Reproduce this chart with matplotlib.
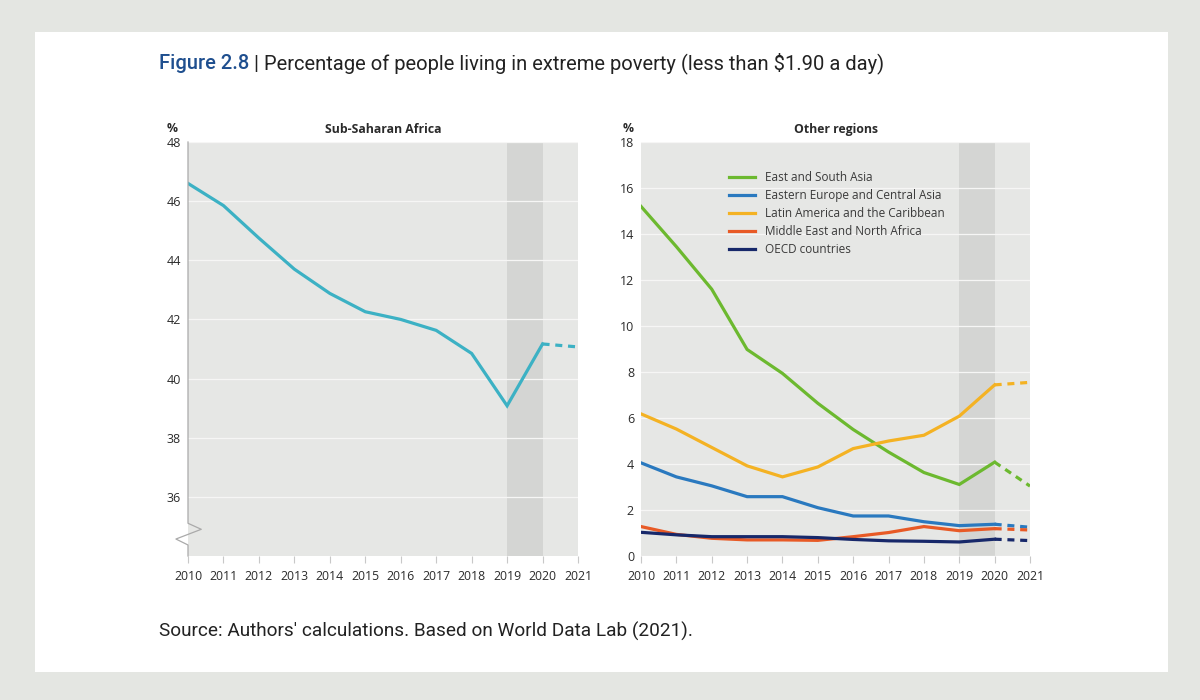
import matplotlib
matplotlib.use("Agg")
import matplotlib.pyplot as plt
from matplotlib.patches import Rectangle
from matplotlib.lines import Line2D

years = [2010, 2011, 2012, 2013, 2014, 2015, 2016, 2017, 2018, 2019, 2020, 2021]

ssa = [46.6, 45.85, 44.75, 43.7, 42.88, 42.26, 42.0, 41.63, 40.85, 39.08, 41.17, 41.07]

region_names = ["East and South Asia", "Eastern Europe and Central Asia",
                "Latin America and the Caribbean", "Middle East and North Africa",
                "OECD countries"]
east_south_asia = [15.2, 13.45, 11.6, 8.98, 7.94, 6.64, 5.5, 4.52, 3.63, 3.11, 4.08, 3.04]
eastern_europe = [4.05, 3.44, 3.05, 2.58, 2.58, 2.1, 1.74, 1.74, 1.49, 1.32, 1.38, 1.25]
latin_america = [6.18, 5.52, 4.72, 3.92, 3.44, 3.87, 4.67, 5.0, 5.25, 6.08, 7.44, 7.55]
mena = [1.28, 0.94, 0.77, 0.70, 0.70, 0.68, 0.84, 1.02, 1.28, 1.1, 1.19, 1.13]
oecd = [1.03, 0.92, 0.84, 0.84, 0.84, 0.8, 0.72, 0.66, 0.64, 0.61, 0.73, 0.67]

left_yticks = [36, 38, 40, 42, 44, 46, 48]
right_yticks = [0, 2, 4, 6, 8, 10, 12, 14, 16, 18]

colors = ["#6cb92f", "#2a79bf", "#f4b223", "#e85a26", "#17286a"]
ssa_color = "#3cb1c4"
plot_bg = "#e6e7e5"
band_color = "#d4d5d3"
txt = "#2b2b2b"
chart_font = ["Open Sans", "DejaVu Sans"]

fig = plt.figure(figsize=(12, 7), dpi=100)
fig.patch.set_facecolor("#e4e6e2")
fig.add_artist(Rectangle((35 / 1200, 1 - 672 / 700), (1168 - 35) / 1200, (672 - 32) / 700,
                         transform=fig.transFigure, facecolor="white", edgecolor="none", zorder=0))

ax1 = fig.add_axes([188 / 1200, 1 - 556 / 700, 390 / 1200, 414 / 700])
ax2 = fig.add_axes([641 / 1200, 1 - 556 / 700, 389 / 1200, 414 / 700])

n_solid = years.index(2020) + 1


def style(ax, yticks, ylim):
    ax.set_facecolor(plot_bg)
    ax.set_xlim(2010, 2021)
    ax.set_ylim(*ylim)
    ax.set_yticks(yticks)
    ax.set_xticks(years)
    ax.set_xticklabels([str(y) for y in years])
    for s in ax.spines.values():
        s.set_visible(False)
    ax.grid(axis="y", color="#f6f6f5", linewidth=0.9)
    ax.set_axisbelow(True)
    ax.tick_params(axis="y", length=0, pad=5, labelsize=9, labelcolor=txt)
    ax.tick_params(axis="x", length=5, width=0.8, color="#c8c8c8", pad=5,
                   labelsize=8.8, labelcolor=txt)
    for lab in ax.get_xticklabels() + ax.get_yticklabels():
        lab.set_family(chart_font)
    ax.axvspan(2019, 2020, color=band_color, zorder=0.5, linewidth=0)


def draw(ax, vals, color, label=None):
    ax.plot(years[:n_solid], vals[:n_solid], color=color, lw=2.3, solid_joinstyle="miter",
            label=label, zorder=3)
    ax.plot(years[n_solid - 1:], vals[n_solid - 1:], color=color, lw=2.3,
            dashes=(2.2, 1.8), zorder=3)


style(ax1, left_yticks, (34, 48))
style(ax2, right_yticks, (0, 18))

draw(ax1, ssa, ssa_color)
series = [east_south_asia, eastern_europe, latin_america, mena, oecd]
for vals, c, name in zip(series, colors, region_names):
    draw(ax2, vals, c, name)

# left spine with axis break
sp = "#aaaaaa"
pts_x = [0, 0, 0.034, -0.031, 0, 0]
pts_y = [1, 0.079, 0.0645, 0.041, 0.0266, 0]
ax1.add_line(Line2D(pts_x, pts_y, transform=ax1.transAxes, color=sp, lw=0.9,
                    clip_on=False, zorder=5))

leg = ax2.legend(loc="upper left", bbox_to_anchor=(0.2, 0.955), frameon=False,
                 handlelength=2.2, handletextpad=0.8, labelspacing=0.42,
                 prop={"family": chart_font, "size": 8.5})
for t in leg.get_texts():
    t.set_color("#3a3a3a")

# panel titles
for ax, title, px in [(ax1, "Sub-Saharan Africa", 172), (ax2, "Other regions", 628)]:
    ax.text(0.5, 1.03, title, transform=ax.transAxes, ha="center", va="center",
            fontsize=8.8, fontweight="bold", color=txt, family=chart_font)
    fig.text(px / 1200, 1 - 128 / 700, "%", ha="center", va="center",
             fontsize=8.8, fontweight="bold", color=txt, family=chart_font)

# figure title
title_y = 1 - 69 / 700
t1 = fig.text(159 / 1200, title_y, "Figure 2.8", ha="left", va="baseline",
              fontsize=14.5, color="#1f4f8f", family=["Roboto", "DejaVu Sans"],
              fontweight="medium")
fig.canvas.draw()
bb = t1.get_window_extent()
fig.text(bb.x1 / 1200 + 0.004, title_y, "| Percentage of people living in extreme poverty (less than $1.90 a day)",
         ha="left", va="baseline", fontsize=14.5, color="#222222",
         family=["Roboto", "DejaVu Sans"])

fig.text(159 / 1200, 1 - 631 / 700, "Source: Authors' calculations. Based on World Data Lab (2021).",
         ha="left", va="center", fontsize=13.7, color="#222222",
         family=["Roboto", "DejaVu Sans"])

fig.savefig("out.png", dpi=100, facecolor=fig.get_facecolor())
